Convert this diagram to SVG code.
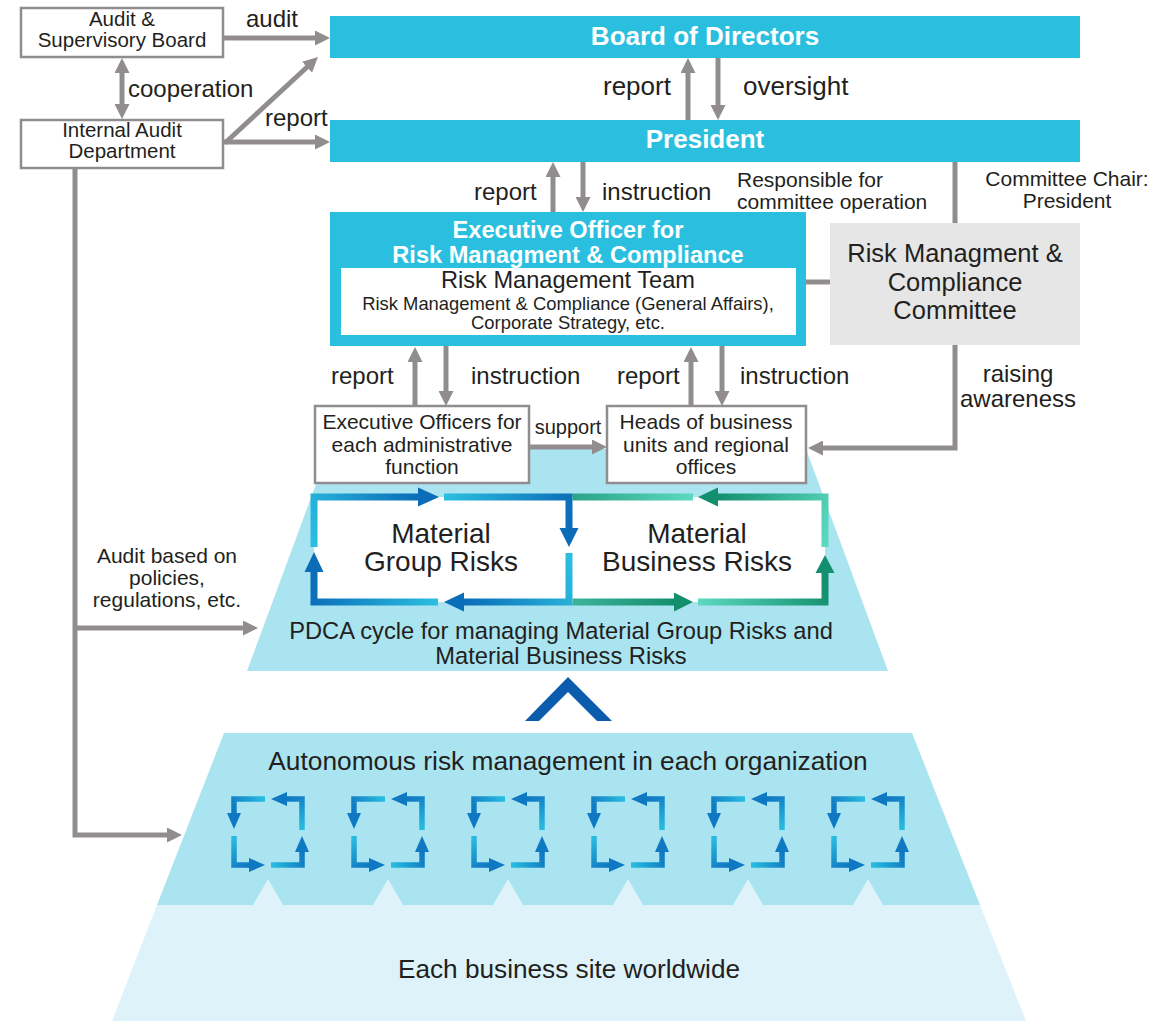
<svg xmlns="http://www.w3.org/2000/svg" width="1163" height="1021" viewBox="0 0 1163 1021">
  <style>
    text { font-family: "Liberation Sans", Arial, sans-serif; fill: #231f20; }
    .mid { text-anchor: middle; }
    .bar { fill: #2bbfdf; }
    .bartxt { fill: #ffffff; font-weight: bold; text-anchor: middle; }
    .box { fill: #ffffff; stroke: #918d8e; stroke-width: 2.5; }
    .conn { fill: none; stroke: #918d8e; stroke-width: 5; stroke-linejoin: miter; }
    .arr { marker-end: url(#head); }
    .dbl { marker-start: url(#head); marker-end: url(#head); }
    .loop { fill: none; stroke-width: 7; stroke-linejoin: miter; }
    .ico { fill: none; stroke-width: 5.5; stroke-linejoin: miter; }
    .bluehead { fill: #0b6cb8; }
    .greenhead { fill: #148f6e; }
    .icohead { fill: #0f78c2; }
  </style>
  <defs>
    <marker id="head" viewBox="0 0 15 15" markerUnits="userSpaceOnUse" markerWidth="15" markerHeight="15" refX="1" refY="7.5" orient="auto-start-reverse">
      <path d="M0,0 L15,7.5 L0,15 z" fill="#918d8e"/>
    </marker>
    <!-- blue loop legs: light at the tail, dark toward the head -->
    <linearGradient id="gA" gradientUnits="userSpaceOnUse" x1="314" y1="547" x2="418" y2="497"><stop offset="0" stop-color="#2bbfe0"/><stop offset="1" stop-color="#0b6cb8"/></linearGradient>
    <linearGradient id="gB" gradientUnits="userSpaceOnUse" x1="444" y1="497" x2="569" y2="528"><stop offset="0" stop-color="#2bbfe0"/><stop offset="1" stop-color="#0b6cb8"/></linearGradient>
    <linearGradient id="gC" gradientUnits="userSpaceOnUse" x1="569" y1="553" x2="464" y2="602"><stop offset="0" stop-color="#2bbfe0"/><stop offset="1" stop-color="#0b6cb8"/></linearGradient>
    <linearGradient id="gD" gradientUnits="userSpaceOnUse" x1="438" y1="602" x2="314" y2="572"><stop offset="0" stop-color="#2bbfe0"/><stop offset="1" stop-color="#0b6cb8"/></linearGradient>
    <!-- green loop legs -->
    <linearGradient id="gE" gradientUnits="userSpaceOnUse" x1="572" y1="602" x2="674" y2="602"><stop offset="0" stop-color="#3db39a"/><stop offset="1" stop-color="#148f6e"/></linearGradient>
    <linearGradient id="gF" gradientUnits="userSpaceOnUse" x1="698" y1="602" x2="825" y2="573"><stop offset="0" stop-color="#5cd9c0"/><stop offset="1" stop-color="#148f6e"/></linearGradient>
    <linearGradient id="gG" gradientUnits="userSpaceOnUse" x1="825" y1="547" x2="718" y2="497"><stop offset="0" stop-color="#5cd9c0"/><stop offset="1" stop-color="#148f6e"/></linearGradient>
    <linearGradient id="gH" gradientUnits="userSpaceOnUse" x1="693" y1="497" x2="572" y2="497"><stop offset="0" stop-color="#5cd9c0"/><stop offset="1" stop-color="#2aa386"/></linearGradient>
    <!-- small cycle icon, drawn around its own centre -->
    <linearGradient id="i1" gradientUnits="userSpaceOnUse" x1="-3" y1="-34" x2="-34" y2="-19"><stop offset="0" stop-color="#2bbfe0"/><stop offset="1" stop-color="#0f78c2"/></linearGradient>
    <linearGradient id="i2" gradientUnits="userSpaceOnUse" x1="34" y1="-2" x2="19" y2="-34"><stop offset="0" stop-color="#2bbfe0"/><stop offset="1" stop-color="#0f78c2"/></linearGradient>
    <linearGradient id="i3" gradientUnits="userSpaceOnUse" x1="3" y1="34" x2="34" y2="20"><stop offset="0" stop-color="#2bbfe0"/><stop offset="1" stop-color="#0f78c2"/></linearGradient>
    <linearGradient id="i4" gradientUnits="userSpaceOnUse" x1="-34" y1="4" x2="-19" y2="34"><stop offset="0" stop-color="#2bbfe0"/><stop offset="1" stop-color="#0f78c2"/></linearGradient>
    <g id="cycle">
      <path class="ico" stroke="url(#i1)" d="M-3,-33 H-34 V-19"/>
      <polygon class="icohead" points="-41,-19 -27,-19 -34,-3"/>
      <path class="ico" stroke="url(#i2)" d="M34,-2 V-33 H19"/>
      <polygon class="icohead" points="19,-40 19,-26 3,-33"/>
      <path class="ico" stroke="url(#i3)" d="M3,33 H34 V20"/>
      <polygon class="icohead" points="27,20 41,20 34,4"/>
      <path class="ico" stroke="url(#i4)" d="M-34,4 V33 H-19"/>
      <polygon class="icohead" points="-19,26 -19,40 -3,33"/>
    </g>
  </defs>

  <!-- pyramid layers -->
  <g id="business-sites">
    <polygon points="157,905 980,905 1026,1021 112,1021" fill="#ddf3f9"/>
    <text class="mid" x="569" y="978" font-size="26.2">Each business site worldwide</text>
  </g>
  <g id="autonomous-layer">
    <polygon points="224,733 912,733 980,905 157,905" fill="#a9e4f0"/>
    <g fill="#ddf3f9">
      <polygon points="253,905 268,879 283,905"/>
      <polygon points="373,905 388,879 403,905"/>
      <polygon points="493,905 508,879 523,905"/>
      <polygon points="613,905 628,879 643,905"/>
      <polygon points="733,905 748,879 763,905"/>
      <polygon points="853,905 868,879 883,905"/>
    </g>
    <text class="mid" x="568" y="770" font-size="26.3">Autonomous risk management in each organization</text>
    <use href="#cycle" transform="translate(268,832)"/>
    <use href="#cycle" transform="translate(388,832)"/>
    <use href="#cycle" transform="translate(508,832)"/>
    <use href="#cycle" transform="translate(628,832)"/>
    <use href="#cycle" transform="translate(748,832)"/>
    <use href="#cycle" transform="translate(868,832)"/>
  </g>
  <g id="upward-chevron">
    <polygon points="525,721 568,677 612,721 597,721 568,692 539,721" fill="#0b5cad"/>
  </g>
  <g id="pdca-cycle">
    <polygon points="329,449 806,449 888,671 247,671" fill="#a9e4f0"/>
    <rect x="314" y="497" width="511" height="105" fill="#ffffff"/>
    <path class="loop" stroke="url(#gA)" d="M314,547 V497 H418"/>
    <polygon class="bluehead" points="418,487.5 418,506.5 439,497"/>
    <path class="loop" stroke="url(#gB)" d="M444,497 H569 V528"/>
    <polygon class="bluehead" points="559.5,528 578.5,528 569,547"/>
    <path class="loop" stroke="url(#gC)" d="M569,553 V602 H464"/>
    <polygon class="bluehead" points="464,592.5 464,611.5 444,602"/>
    <path class="loop" stroke="url(#gD)" d="M438,602 H314 V572"/>
    <polygon class="bluehead" points="304.5,572 323.5,572 314,552"/>
    <path class="loop" stroke="url(#gE)" d="M572.5,602 H674"/>
    <polygon class="greenhead" points="674,592.5 674,611.5 693,602"/>
    <path class="loop" stroke="url(#gF)" d="M698,602 H825 V573"/>
    <polygon class="greenhead" points="815.5,573 834.5,573 825,555"/>
    <path class="loop" stroke="url(#gG)" d="M825,547 V497 H718"/>
    <polygon class="greenhead" points="718,487.5 718,506.5 698,497"/>
    <path class="loop" stroke="url(#gH)" d="M693,497 H572.5"/>
    <text class="mid" font-size="28"><tspan x="441" y="543">Material</tspan><tspan x="441" y="571">Group Risks</tspan></text>
    <text class="mid" font-size="28"><tspan x="697" y="543">Material</tspan><tspan x="697" y="571">Business Risks</tspan></text>
    <text class="mid" font-size="23.7"><tspan x="561" y="639">PDCA cycle for managing Material Group Risks and</tspan><tspan x="561" y="664">Material Business Risks</tspan></text>
  </g>

  <!-- organisation nodes -->
  <g id="audit-board">
    <rect class="box" x="21" y="8" width="202" height="49"/>
    <text class="mid" font-size="20.5"><tspan x="122" y="26">Audit &amp;</tspan><tspan x="122" y="47">Supervisory Board</tspan></text>
  </g>
  <g id="internal-audit">
    <rect class="box" x="21" y="120" width="202" height="48"/>
    <text class="mid" font-size="20.5"><tspan x="122" y="137">Internal Audit</tspan><tspan x="122" y="158">Department</tspan></text>
  </g>
  <g id="board-of-directors">
    <rect class="bar" x="330" y="16" width="750" height="42"/>
    <text class="bartxt" x="705" y="45" font-size="26">Board of Directors</text>
  </g>
  <g id="president">
    <rect class="bar" x="330" y="120" width="750" height="42"/>
    <text class="bartxt" x="705" y="148" font-size="26">President</text>
  </g>
  <g id="executive-officer">
    <rect class="bar" x="330" y="212" width="476" height="134"/>
    <text class="bartxt" font-size="23.6"><tspan x="568" y="238">Executive Officer for</tspan><tspan x="568" y="262.5">Risk Managment &amp; Compliance</tspan></text>
    <rect x="341" y="268" width="455" height="67" fill="#ffffff"/>
    <text class="mid" x="568" y="288" font-size="23.6">Risk Management Team</text>
    <text class="mid" font-size="18.4"><tspan x="568" y="309.5">Risk Management &amp; Compliance (General Affairs),</tspan><tspan x="568" y="329">Corporate Strategy, etc.</tspan></text>
  </g>
  <g id="committee">
    <rect x="830" y="223" width="250" height="122" fill="#e6e6e6"/>
    <text class="mid" font-size="25.5"><tspan x="955" y="262">Risk Managment &amp;</tspan><tspan x="955" y="290.5">Compliance</tspan><tspan x="955" y="319">Committee</tspan></text>
  </g>
  <g id="admin-officers">
    <rect class="box" x="315" y="406" width="214" height="77"/>
    <text class="mid" font-size="21"><tspan x="422" y="429">Executive Officers for</tspan><tspan x="422" y="451.5">each administrative</tspan><tspan x="422" y="474">function</tspan></text>
  </g>
  <g id="business-heads">
    <rect class="box" x="607" y="406" width="199" height="77"/>
    <text class="mid" font-size="21"><tspan x="706" y="429">Heads of business</tspan><tspan x="706" y="451.5">units and regional</tspan><tspan x="706" y="474">offices</tspan></text>
  </g>

  <!-- connectors and their labels -->
  <g id="connectors">
    <path class="conn arr" d="M223,38 H316"/>
    <path class="conn dbl" d="M122,72 V105"/>
    <path class="conn arr" d="M225,143 L307.7,66.5"/>
    <path class="conn arr" d="M223,142 H316"/>
    <path class="conn arr" d="M688,120 V72"/>
    <path class="conn arr" d="M718,58 V106"/>
    <path class="conn arr" d="M553,212 V176"/>
    <path class="conn arr" d="M583,162 V198"/>
    <path class="conn" d="M955,162 V223"/>
    <path class="conn" d="M806,282 H830"/>
    <path class="conn arr" d="M415,406 V361"/>
    <path class="conn arr" d="M446,346 V392"/>
    <path class="conn arr" d="M691,406 V361"/>
    <path class="conn arr" d="M722,346 V392"/>
    <path class="conn arr" d="M529,447 H593"/>
    <path class="conn arr" d="M955,345 V448 H822"/>
    <path class="conn arr" d="M75,168 V835 H168"/>
    <path class="conn arr" d="M75,628 H244"/>

    <text class="mid" x="272" y="27" font-size="24">audit</text>
    <text x="128" y="97" font-size="24">cooperation</text>
    <text x="265" y="126" font-size="24">report</text>
    <text x="603" y="95" font-size="26">report</text>
    <text x="743" y="95" font-size="26">oversight</text>
    <text x="474" y="200" font-size="24">report</text>
    <text x="602" y="200" font-size="24">instruction</text>
    <text font-size="21"><tspan x="737" y="187">Responsible for</tspan><tspan x="737" y="209">committee operation</tspan></text>
    <text class="mid" font-size="21"><tspan x="1067" y="186">Committee Chair:</tspan><tspan x="1067" y="208">President</tspan></text>
    <text x="331" y="384" font-size="24">report</text>
    <text x="471" y="384" font-size="24">instruction</text>
    <text x="617" y="384" font-size="24">report</text>
    <text x="740" y="384" font-size="24">instruction</text>
    <text class="mid" x="568" y="434" font-size="20">support</text>
    <text class="mid" font-size="24"><tspan x="1018" y="382">raising</tspan><tspan x="1018" y="407">awareness</tspan></text>
    <text class="mid" font-size="21"><tspan x="167" y="563">Audit based on</tspan><tspan x="167" y="585">policies,</tspan><tspan x="167" y="607">regulations, etc.</tspan></text>
  </g>
</svg>
